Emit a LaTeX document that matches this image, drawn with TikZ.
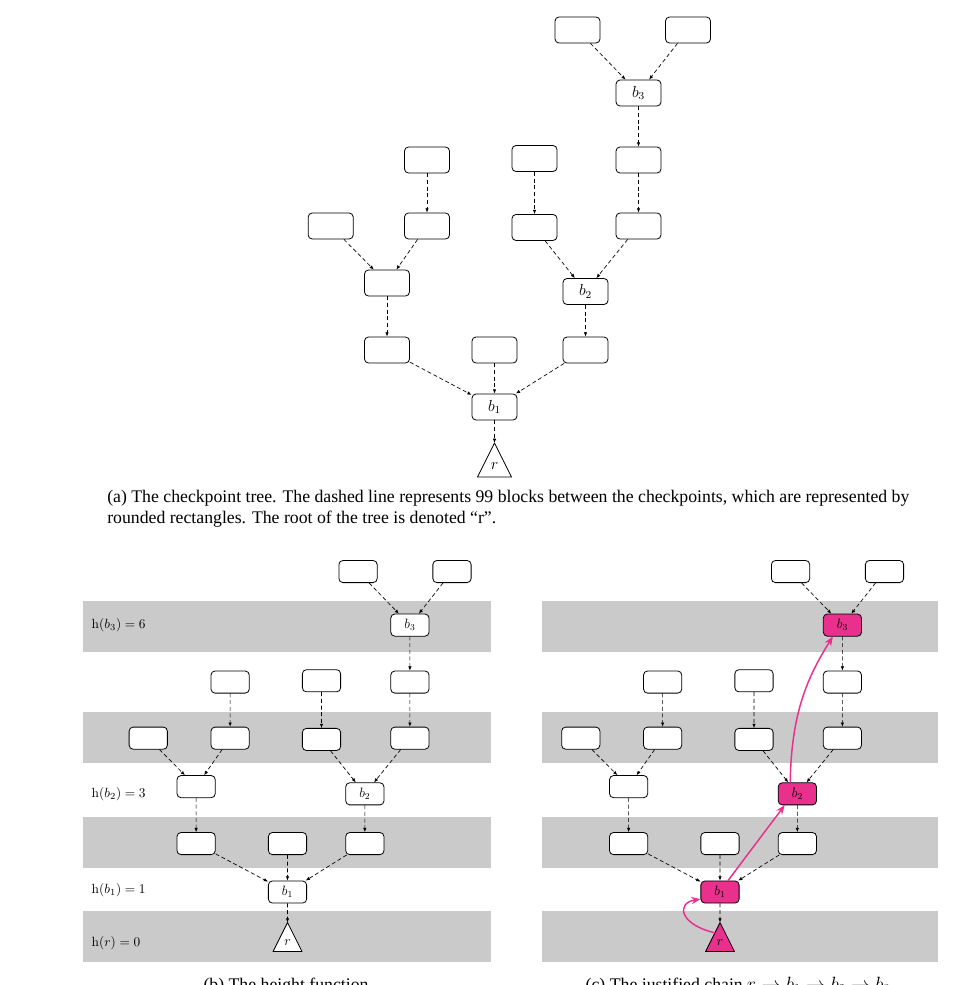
\documentclass[tikz,border=0pt]{standalone}
\usepackage{fontspec}
\newfontfamily\capfont{Liberation Serif}
\usetikzlibrary{arrows.meta}
\definecolor{hl}{HTML}{E8308C}
\definecolor{band}{HTML}{CACACA}
\tikzset{
  blk/.style={draw, fill=white, rounded corners=3pt, minimum width=33.75pt, minimum height=19.5pt, inner sep=0pt, font=\fontsize{12}{14}\selectfont, line width=0.6pt},
  dedge/.style={densely dashed, line width=0.5pt, -{Latex[length=3.2pt,width=2.6pt]}},
  chain/.style={hl, line width=1.1pt, -{Stealth[length=7pt,width=5.5pt]}},
  hlabel/.style={anchor=west, font=\fontsize{10}{12}\selectfont},
  captext/.style={font=\capfont\fontsize{13.3}{16}\selectfont, inner sep=0pt},
  tri/.style={draw, line width=0.6pt, line join=round},
}
\newcommand\drawtree[2]{%
  \node[blk] (#1t1) at (577.5,30) {};
  \node[blk] (#1t2) at (688,30) {};
  \node[blk,fill=#2] (#1b3) at (638.5,93) {$b_3$};
  \node[blk] (#1m1) at (427,160) {};
  \node[blk] (#1m2) at (534.5,158.5) {};
  \node[blk] (#1m3) at (638.5,160) {};
  \node[blk] (#1n1) at (330.7,226) {};
  \node[blk] (#1n2) at (427,226) {};
  \node[blk] (#1n3) at (534.5,227.5) {};
  \node[blk] (#1n4) at (638.5,226) {};
  \node[blk] (#1p1) at (387,283) {};
  \node[blk,fill=#2] (#1b2) at (585.5,291.5) {$b_2$};
  \node[blk] (#1q1) at (387,350) {};
  \node[blk] (#1q2) at (494.5,350) {};
  \node[blk] (#1q3) at (585.5,350) {};
  \node[blk,fill=#2] (#1b1) at (494.5,407) {$b_1$};
  \draw[tri,fill=#2] (494.5,443) -- (511.5,477) -- (477.5,477) -- cycle;
  \coordinate (#1rtop) at (494.5,443);
  \coordinate (#1rl) at (488.5,455);
  \node[inner sep=0pt, font=\fontsize{12}{14}\selectfont] (#1r) at (494.5,466) {$r$};
  \draw[dedge] (#1t1) -- (#1b3);
  \draw[dedge] (#1t2) -- (#1b3);
  \draw[dedge] (#1b3) -- (#1m3);
  \draw[dedge] (#1m3) -- (#1n4);
  \draw[dedge] (#1m1) -- (#1n2);
  \draw[dedge] (#1m2) -- (#1n3);
  \draw[dedge] (#1n1) -- (#1p1);
  \draw[dedge] (#1n2) -- (#1p1);
  \draw[dedge] (#1n3) -- (#1b2);
  \draw[dedge] (#1n4) -- (#1b2);
  \draw[dedge] (#1p1) -- (#1q1);
  \draw[dedge] (#1b2) -- (#1q3);
  \draw[dedge] (#1q1) -- (#1b1);
  \draw[dedge] (#1q2) -- (#1b1);
  \draw[dedge] (#1q3) -- (#1b1);
  \draw[dedge] (#1b1) -- (#1rtop);
}
\begin{document}
\begin{tikzpicture}[x=0.75pt,y=-0.75pt]
\useasboundingbox (0,0) rectangle (965,985);
% bands
\foreach \ya/\yb in {601/652,712/763,817/868,911/962}{
  \fill[band] (83,\ya) rectangle (491,\yb);
  \fill[band] (542,\ya) rectangle (938,\yb);
}
% (a)
\drawtree{a-}{white}
\node[captext, anchor=north west, align=left] (capa) at (107,490) {(a) The checkpoint tree. The dashed line represents 99 blocks between the checkpoints, which are represented by\\rounded rectangles. The root of the tree is denoted “r”.};
% (b)
\begin{scope}[shift={(-132.825,546.05)}, scale=0.85, transform shape]
\drawtree{b-}{white}
\end{scope}
\node[hlabel] (l3) at (87,625) {$\mathrm{h}(b_3) = 6$};
\node[hlabel] (l2) at (87,794) {$\mathrm{h}(b_2) = 3$};
\node[hlabel] (l1) at (87,890) {$\mathrm{h}(b_1) = 1$};
\node[hlabel] (l0) at (87,943) {$\mathrm{h}(r) = 0$};
% (c)
\begin{scope}[shift={(299.675,546.05)}, scale=0.85, transform shape]
\drawtree{c-}{hl}
\end{scope}
\draw[chain] (c-rl) .. controls +(-35,-8) and +(-25,4) .. (c-b1.200);
\draw[chain] (c-b1.55) -- (c-b2.222);
\draw[chain] (c-b2.122) .. controls +(1,-70) and +(-25,40) .. (c-b3.230);
% bottom captions (cut by the page edge, as in the reference)
\begin{scope}
\clip (0,0) rectangle (965,985);
\node[captext, anchor=base] (capb) at (286,990) {(b) The height function};
\node[captext, anchor=base] (capc) at (738,990) {(c) The justified chain $r \to b_1 \to b_2 \to b_3$};
\end{scope}
\end{tikzpicture}
\end{document}
